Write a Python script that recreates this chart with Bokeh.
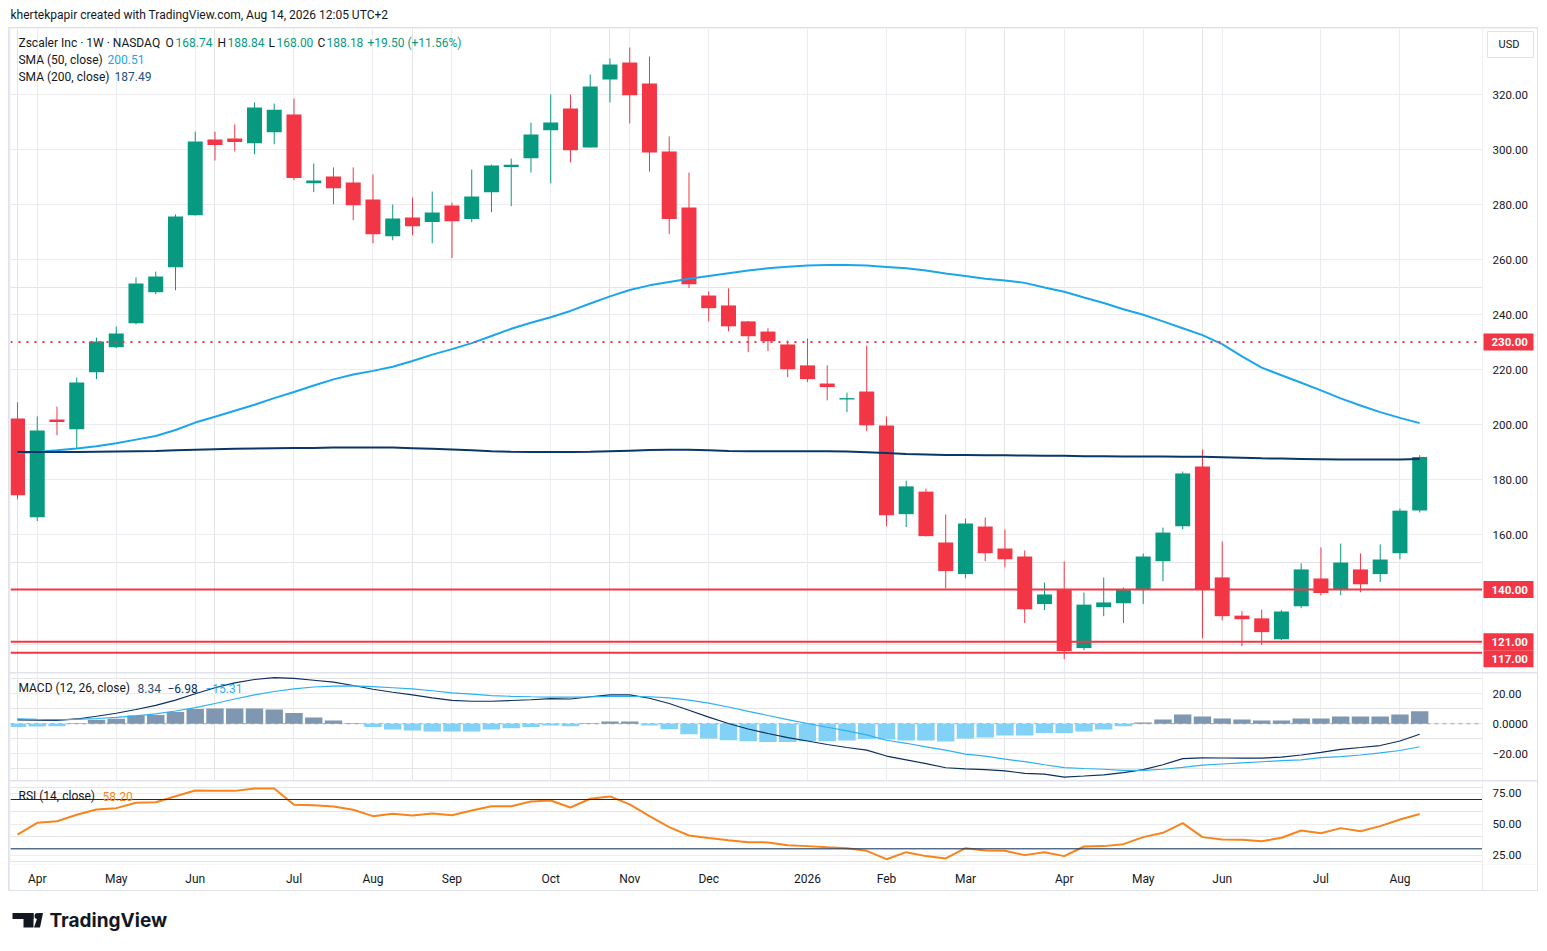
import pandas as pd
from bokeh.plotting import figure
from bokeh.models import (Range1d, FixedTicker, Label, Span, Grid, ColumnDataSource)
from bokeh.layouts import column, row
from bokeh.core.properties import value
from bokeh.embed import file_html
from bokeh.resources import INLINE

# ---------------- data ----------------
dates = pd.date_range("2025-03-31", periods=72, freq="7D")

opens = [202.2, 166.3, 201.8, 198.3, 219.0, 228.1, 236.8, 248.1, 257.2, 276.1,
         303.6, 304.0, 302.3, 306.3, 312.7, 287.7, 290.2, 288.0, 281.8, 268.5,
         275.3, 273.6, 279.6, 274.7, 284.5, 293.6, 296.8, 307.0, 314.9, 300.7,
         325.5, 331.6, 324.0, 299.3, 278.9, 246.9, 243.3, 237.5, 233.8, 229.1,
         221.5, 214.9, 209.1, 212.0, 199.6, 167.4, 175.6, 157.1, 145.6, 162.9,
         154.9, 152.0, 134.7, 139.8, 118.7, 133.6, 135.0, 139.8, 150.3, 163.0,
         184.7, 144.4, 130.5, 129.5, 121.9, 133.9, 144.0, 139.8, 147.3, 145.6,
         153.2, 168.74]
highs = [208.1, 202.9, 206.5, 217.1, 231.6, 235.6, 253.5, 255.6, 276.4, 306.5,
         306.5, 309.1, 317.1, 316.7, 318.5, 294.9, 293.5, 293.5, 290.9, 280.0,
         282.5, 284.7, 280.7, 292.7, 294.5, 296.7, 309.8, 320.0, 320.0, 327.3,
         333.1, 337.1, 333.8, 304.7, 291.6, 248.4, 249.5, 237.6, 235.0, 230.5,
         231.3, 221.5, 211.6, 228.7, 202.9, 179.6, 176.7, 167.3, 165.8, 166.2,
         161.8, 154.2, 142.5, 150.2, 138.9, 144.4, 140.7, 153.1, 162.5, 182.9,
         190.9, 157.5, 132.1, 132.7, 132.5, 149.5, 155.3, 156.7, 153.1, 156.4,
         169.5, 188.84]
lows = [172.8, 164.9, 196.1, 191.1, 216.5, 227.8, 236.4, 247.4, 248.8, 276.0,
        296.0, 299.3, 298.3, 301.9, 288.8, 284.5, 280.1, 274.3, 265.9, 267.0,
        268.8, 265.9, 260.5, 273.6, 277.2, 279.4, 291.6, 287.7, 295.3, 300.7,
        317.1, 309.5, 292.0, 269.2, 249.6, 237.5, 233.9, 226.3, 226.7, 217.2,
        215.4, 208.8, 204.5, 197.6, 163.0, 162.7, 159.3, 140.4, 144.1, 150.3,
        148.1, 127.8, 132.5, 114.7, 117.9, 130.3, 127.8, 134.7, 143.0, 161.9,
        122.3, 128.8, 119.4, 119.8, 121.6, 133.2, 137.8, 137.9, 139.0, 142.7,
        151.0, 168.00]
closes = [174.3, 197.8, 200.9, 215.3, 230.2, 233.1, 251.3, 253.8, 275.6, 302.9,
          301.6, 302.7, 315.3, 314.5, 289.6, 288.7, 285.9, 279.7, 269.2, 274.9,
          272.1, 277.1, 273.9, 282.9, 294.2, 294.5, 305.5, 309.8, 299.7, 322.9,
          330.9, 319.7, 298.9, 274.7, 251.0, 242.3, 235.7, 232.1, 230.3, 220.1,
          216.5, 213.6, 209.6, 199.7, 167.0, 177.5, 159.4, 146.7, 164.0, 153.2,
          151.0, 132.8, 138.2, 117.6, 134.5, 135.3, 139.8, 152.0, 160.7, 182.2,
          139.8, 130.3, 129.2, 124.5, 132.0, 147.3, 138.7, 149.8, 141.9, 150.9,
          168.68, 188.18]

sma50 = [189.6, 190.0, 190.6, 191.3, 192.1, 193.2, 194.5, 195.8, 198.0, 200.7,
         202.8, 205.0, 207.2, 209.6, 211.8, 214.2, 216.4, 218.2, 219.5, 221.0,
         223.1, 225.4, 227.4, 229.6, 232.2, 234.8, 237.0, 239.0, 241.3, 244.0,
         246.6, 248.9, 250.6, 251.8, 253.0, 254.0, 255.0, 256.0, 256.8, 257.4,
         257.8, 258.0, 258.0, 257.8, 257.3, 256.8, 256.0, 254.9, 254.0, 253.0,
         252.4, 251.5, 249.8, 248.3, 246.2, 244.2, 241.9, 239.9, 237.5, 235.0,
         232.5, 229.2, 224.8, 220.7, 217.9, 215.2, 212.4, 209.5, 206.9, 204.5,
         202.4, 200.51]
sma200 = [190.0, 190.0, 190.0, 190.0, 190.1, 190.2, 190.3, 190.4, 190.6, 190.8,
          191.0, 191.2, 191.3, 191.4, 191.5, 191.5, 191.6, 191.6, 191.6, 191.6,
          191.4, 191.2, 190.9, 190.6, 190.3, 190.1, 190.0, 190.0, 190.0, 190.1,
          190.3, 190.5, 190.7, 190.8, 190.8, 190.6, 190.4, 190.3, 190.3, 190.3,
          190.3, 190.3, 190.2, 189.9, 189.6, 189.3, 189.1, 188.9, 188.9, 188.8,
          188.8, 188.7, 188.6, 188.6, 188.5, 188.5, 188.4, 188.4, 188.4, 188.3,
          188.3, 188.1, 187.9, 187.7, 187.6, 187.5, 187.4, 187.3, 187.3, 187.3,
          187.3, 187.49]

macd = [2.6, 2.4, 2.3, 3.2, 5.0, 7.0, 9.5, 12.3, 15.8, 20.0,
        24.0, 27.3, 29.5, 30.8, 30.2, 29.0, 27.8, 25.5, 23.0, 21.0,
        19.3, 17.2, 15.6, 15.0, 15.0, 15.5, 16.0, 16.8, 16.5, 18.0,
        19.3, 19.3, 17.0, 13.5, 9.0, 4.4, 0.2, -3.5, -6.5, -9.2,
        -11.5, -13.8, -15.8, -17.6, -21.5, -24.0, -26.5, -29.3, -30.0, -30.6,
        -31.4, -33.0, -33.6, -35.5, -34.8, -34.0, -32.6, -30.5, -27.3, -23.2,
        -22.7, -22.8, -22.9, -22.9, -22.2, -20.8, -19.0, -17.0, -15.8, -14.5,
        -11.5, -6.98]
signal = [3.3, 3.0, 2.8, 2.9, 3.5, 4.3, 5.2, 6.6, 8.5, 10.8,
          13.5, 16.5, 19.3, 21.5, 23.2, 24.5, 25.1, 25.2, 24.8, 24.0,
          23.2, 22.0, 20.6, 19.8, 18.8, 18.3, 18.0, 17.8, 17.8, 17.9,
          18.2, 18.3, 18.0, 17.2, 15.8, 13.8, 11.2, 8.3, 5.5, 2.8,
          0.2, -2.3, -4.7, -7.4, -11.0, -13.0, -15.4, -17.6, -20.2, -21.5,
          -23.6, -25.2, -27.3, -29.2, -29.8, -30.3, -31.0, -31.1, -30.3, -29.0,
          -27.6, -26.8, -26.0, -25.3, -24.6, -24.1, -22.6, -21.9, -20.8, -19.4,
          -17.8, -15.31]
hist = [-2.2, -1.8, -1.6, 0.3, 2.7, 3.3, 5.5, 5.9, 7.8, 9.8,
        10.2, 10.2, 10.2, 9.5, 7.1, 4.2, 2.2, 0.3, -2.2, -3.8,
        -4.5, -5.1, -5.1, -5.1, -3.8, -2.9, -2.2, -1.1, -1.6, 0.3,
        1.5, 1.5, -1.1, -3.6, -6.9, -9.8, -10.9, -11.6, -12.2, -12.2,
        -11.6, -11.6, -11.1, -10.2, -10.4, -11.1, -11.1, -11.8, -9.8, -9.1,
        -7.8, -7.8, -6.2, -6.2, -5.1, -3.8, -1.6, 0.9, 2.9, 6.2,
        4.9, 3.5, 2.9, 2.2, 2.2, 3.5, 3.5, 4.9, 4.9, 4.9,
        6.2, 8.34]
rsi = [41.6, 51.1, 52.4, 57.6, 61.9, 63.0, 67.4, 67.8, 72.7, 77.3,
       77.0, 77.0, 79.0, 79.0, 65.7, 65.4, 64.4, 61.7, 56.5, 58.4,
       57.0, 58.6, 57.3, 61.1, 64.6, 64.6, 68.4, 69.2, 63.5, 70.6,
       72.5, 66.0, 56.5, 47.6, 40.8, 38.7, 37.0, 35.4, 35.2, 33.0,
       32.2, 31.3, 30.5, 28.4, 21.6, 27.3, 24.1, 22.2, 30.5, 28.7,
       28.4, 24.9, 27.3, 24.1, 31.9, 32.2, 33.8, 39.5, 43.0, 50.8,
       39.5, 37.6, 37.3, 36.2, 39.0, 44.9, 42.7, 46.8, 44.3, 48.4,
       53.8, 58.2]

month_labels = ["Apr", "May", "Jun", "Jul", "Aug", "Sep", "Oct", "Nov", "Dec",
                "2026", "Feb", "Mar", "Apr", "May", "Jun", "Jul", "Aug"]
price_ticks = [120, 140, 160, 180, 200, 220, 240, 260, 280, 300, 320]
price_levels = [230, 140, 121, 117]
level_dashes = ["2 6", "solid", "solid", "solid"]
macd_ticks = [-20, 0, 20]
macd_tick_labels = ["\u221220.00", "0.0000", "20.00"]
rsi_ticks = [25, 50, 75]
rsi_bands = [70, 30]

# ---------------- style ----------------
FONT = "Roboto"
TXT = "#131722"
GRID = "#ececf0"
GREEN = "#089981"
RED = "#f23645"
SMA50C = "#1aa5ec"
SMA200C = "#0c3764"
MACDC = "#0c2f5e"
SIGC = "#2cb0f0"
HPOS = "#7f97b0"
HNEG = "#82d2f7"
RSIC = "#f7841c"

idx = list(range(len(dates)))
month_ticks = [i for i in range(1, len(dates)) if dates[i].month != dates[i - 1].month]

X0, X1 = -0.354, 74.18
FW = 1472
SW = 55
PY0, PY1 = 109.82, 344.0
PH = 644
PPU = PH / (PY1 - PY0)


def xd(px):  # page x -> bar index
    return (px - 17) / 19.75


def yp(py):  # page y -> price
    return PY1 - (py - 28) / PPU


def fmt(v):
    return f"{v:.2f}".replace("-", "\u2212")


def main_fig(fh, yr, bottom=0, xaxis=False):
    f = figure(frame_width=FW, frame_height=fh, x_range=xr, y_range=yr,
               output_backend="svg", toolbar_location=None,
               x_axis_location="below" if xaxis else None, y_axis_location=None,
               min_border_left=1, min_border_right=0, min_border_top=0,
               min_border_bottom=bottom, outline_line_color=None,
               background_fill_color="white", border_fill_color="white")
    f.add_layout(Grid(dimension=0, ticker=FixedTicker(ticks=month_ticks), grid_line_color=GRID))
    return f


def side_fig(fh, yr, ticks, labels, bottom=0):
    s = figure(frame_width=SW, frame_height=fh, x_range=Range1d(0, SW), y_range=yr,
               output_backend="svg", toolbar_location=None, x_axis_location=None,
               y_axis_location=None, min_border=0, min_border_bottom=bottom,
               outline_line_color=None, background_fill_color="white",
               border_fill_color="white")
    s.grid.visible = False
    s.text(x=[10] * len(ticks), y=ticks, text=labels, text_color=TXT, text_font=value(FONT),
           text_font_size=value("11.5px"), text_baseline="middle", text_align="left")
    return s


def hgrid(f, ticks):
    f.add_layout(Grid(dimension=1, ticker=FixedTicker(ticks=ticks), grid_line_color=GRID))


def leg(fig, px, y, text, color=TXT, size="12px", weight="normal"):
    fig.add_layout(Label(x=xd(px), y=y, text=text, text_color=color, text_font=FONT,
                         text_font_size=size, text_font_style=weight, text_baseline="middle",
                         text_align="left"))


xr = Range1d(X0, X1)

# ---------------- price pane ----------------
pyr = Range1d(PY0, PY1)
p = main_fig(PH, pyr)
hgrid(p, price_ticks)

cols = [GREEN if c >= o else RED for o, c in zip(opens, closes)]
src = ColumnDataSource(dict(x=idx, o=opens, h=highs, l=lows, c=closes,
                            top=[max(o, c) for o, c in zip(opens, closes)],
                            bot=[min(o, c) for o, c in zip(opens, closes)], col=cols))
p.segment(x0="x", y0="h", x1="x", y1="l", source=src, line_color="col", line_width=1)
p.vbar(x="x", width=0.76, top="top", bottom="bot", source=src, fill_color="col", line_color=None)
p.line(idx, sma50, line_color=SMA50C, line_width=2)
p.line(idx, sma200, line_color=SMA200C, line_width=2)
for lv, dsh in zip(price_levels, level_dashes):
    p.add_layout(Span(location=lv, dimension="width", line_color=RED, line_width=2, line_dash=dsh))

ps = side_fig(PH, pyr, price_ticks, [f"{t:.2f}" for t in price_ticks])
lvl_y = [lv - (6 / PPU if lv == min(price_levels) else 0) for lv in price_levels]
ps.rect(x=[26] * len(price_levels), y=lvl_y, width=50, height=17, width_units="screen",
        height_units="screen", fill_color=RED, line_color=None)
ps.text(x=[9] * len(price_levels), y=lvl_y, text=[f"{lv:.2f}" for lv in price_levels],
        text_color="white", text_font=value(FONT), text_font_size=value("11.5px"),
        text_font_style="bold", text_baseline="middle", text_align="left")
ps.rect(x=[28], y=[yp(44)], width=46, height=26, width_units="screen", height_units="screen",
        fill_color="white", line_color="#e0e3eb", line_width=1)
ps.text(x=[16], y=[yp(44)], text=["USD"], text_color=TXT, text_font=value(FONT),
        text_font_size=value("11px"), text_baseline="middle", text_align="left")

chg = closes[-1] - closes[-2]
pct = chg / closes[-2] * 100
r1 = yp(42)
leg(p, 18, r1, "Zscaler Inc \u00b7 1W \u00b7 NASDAQ")
leg(p, 165, r1, "O")
leg(p, 175, r1, f"{opens[-1]:.2f}", GREEN)
leg(p, 217, r1, "H")
leg(p, 227, r1, f"{highs[-1]:.2f}", GREEN)
leg(p, 268, r1, "L")
leg(p, 276, r1, f"{lows[-1]:.2f}", GREEN)
leg(p, 317, r1, "C")
leg(p, 326, r1, f"{closes[-1]:.2f}", GREEN)
leg(p, 367, r1, f"+{chg:.2f} (+{pct:.2f}%)", GREEN)
leg(p, 18, yp(59), "SMA (50, close)")
leg(p, 107, yp(59), f"{sma50[-1]:.2f}", SMA50C)
leg(p, 18, yp(76), "SMA (200, close)")
leg(p, 114, yp(76), f"{sma200[-1]:.2f}", "#1f4f82")

# ---------------- MACD pane ----------------
myr = Range1d(-37.8, 33.5)
p2 = main_fig(107, myr)
hgrid(p2, macd_ticks)
p2.add_layout(Span(location=0, dimension="width", line_color="#a3a6af", line_width=1,
                   line_dash="4 4", level="underlay"))
hcols = [HPOS if h >= 0 else HNEG for h in hist]
p2.vbar(x=idx, width=0.88, top=hist, bottom=0, fill_color=hcols, line_color=None)
p2.line(idx, macd, line_color=MACDC, line_width=1.2)
p2.line(idx, signal, line_color=SIGC, line_width=1.2)
my = (723.3 - 688) / 1.5
leg(p2, 18, my, "MACD (12, 26, close)")
leg(p2, 137, my, fmt(hist[-1]), "#2b4c70")
leg(p2, 167, my, fmt(macd[-1]), MACDC)
leg(p2, 205, my, fmt(signal[-1]), SIGC)
ps2 = side_fig(107, myr, macd_ticks, macd_tick_labels)

# ---------------- RSI pane ----------------
ryr = Range1d(17.3, 84.6)
p3 = main_fig(83, ryr, bottom=26, xaxis=True)
hgrid(p3, rsi_ticks)
p3.xaxis.ticker = FixedTicker(ticks=month_ticks)
p3.xaxis.major_label_overrides = {t: s for t, s in zip(month_ticks, month_labels)}
p3.xaxis.axis_line_color = None
p3.xaxis.major_tick_line_color = None
p3.xaxis.minor_tick_line_color = None
p3.xaxis.major_tick_out = 0
p3.xaxis.major_tick_in = 0
p3.xaxis.major_label_standoff = 7
p3.xaxis.major_label_text_font = FONT
p3.xaxis.major_label_text_font_size = "12px"
p3.xaxis.major_label_text_color = TXT
p3.xgrid.grid_line_color = None
for b in rsi_bands:
    p3.add_layout(Span(location=b, dimension="width", line_color=MACDC, line_width=1))
p3.line(idx, rsi, line_color=RSIC, line_width=2)
ry = 50 + (823.7 - 796) / 1.2333
leg(p3, 18, ry, "RSI (14, close)")
leg(p3, 102, ry, f"{rsi[-1]:.2f}", RSIC)
ps3 = side_fig(83, ryr, rsi_ticks, [f"{t:.2f}" for t in rsi_ticks], bottom=26)

# ---------------- header & footer ----------------
hdr = figure(frame_width=1530, frame_height=19, x_range=Range1d(0, 1530), y_range=Range1d(19, 0),
             output_backend="svg", toolbar_location=None, x_axis_location=None,
             y_axis_location=None, min_border=0, outline_line_color=None,
             background_fill_color="white", border_fill_color="white")
hdr.grid.visible = False
hdr.add_layout(Label(x=2, y=6, text="khertekpapir created with TradingView.com, Aug 14, 2026 12:05 UTC+2",
                     text_color=TXT, text_font=FONT, text_font_size="12px", text_baseline="middle"))

ftr = figure(frame_width=1530, frame_height=52, x_range=Range1d(0, 1530), y_range=Range1d(52, 0),
             output_backend="svg", toolbar_location=None, x_axis_location=None,
             y_axis_location=None, min_border=0, outline_line_color=None,
             background_fill_color="white", border_fill_color="white")
ftr.grid.visible = False
ftr.quad(left=[4], right=[25], top=[21.5], bottom=[27.5], fill_color="#131722", line_color=None)
ftr.quad(left=[15], right=[25], top=[21.5], bottom=[36], fill_color="#131722", line_color=None)
ftr.circle(x=[29], y=[24.5], radius=3, fill_color="#131722", line_color=None)
ftr.patch(x=[25.5, 31.5, 34.5, 30.5], y=[36, 36, 21.5, 21.5], fill_color="#131722", line_color=None)
ftr.add_layout(Label(x=41, y=29, text="TradingView", text_color="#131722", text_font="Inter",
                     text_font_size="19px", text_font_style="bold", text_baseline="middle"))

box = column(row(p, ps, spacing=0), row(p2, ps2, spacing=0), row(p3, ps3, spacing=0), spacing=1,
             styles={"border": "1px solid #e0e3eb", "background-color": "#e0e3eb"})
layout = column(hdr, box, ftr, spacing=0, styles={"margin": "8px"})

open("out.html", "w").write(file_html(layout, INLINE))
